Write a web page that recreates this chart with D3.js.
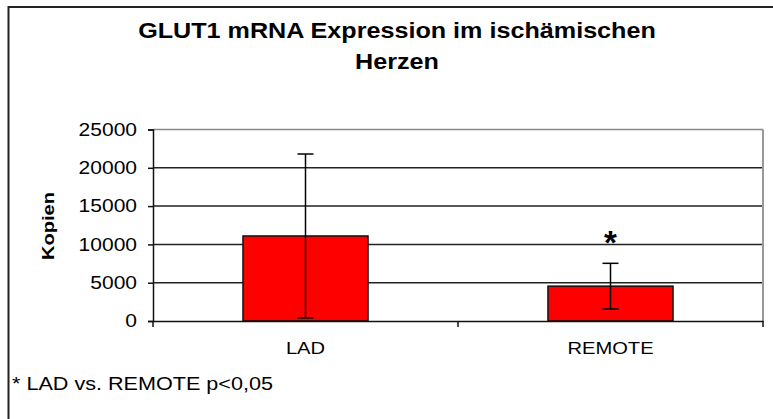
<!DOCTYPE html>
<html>
<head>
<meta charset="utf-8">
<script src="https://cdn.jsdelivr.net/npm/d3@7"></script>
<style>
  body { margin: 0; background: #fff; }
  svg { display: block; font-family: "Liberation Sans", Arial, sans-serif; }
</style>
</head>
<body>
<svg id="chart" width="773" height="419"></svg>
<script>
// data
const categories = ["LAD", "REMOTE"];
const means = [11100, 4550];
const sds = [10700, 2980];
const significant = [false, true];
const yTicks = [0, 5000, 10000, 15000, 20000, 25000];

const titleLines = ["GLUT1 mRNA Expression im ischämischen", "Herzen"];
const yLabel = "Kopien";
const footnote = "* LAD vs. REMOTE p<0,05";

const svg = d3.select("#chart");

// the source picture is a little wider than it is tall, so text gets stretched sideways
function stretch(sel, k) {
  sel.each(function () {
    const w = this.getComputedTextLength();
    d3.select(this).attr("textLength", w * k).attr("lengthAdjust", "spacingAndGlyphs");
  });
}

const plot = { left: 153, right: 763, top: 129.5, bottom: 321 };

const x = d3.scaleBand().domain(categories).range([plot.left, plot.right]);
const y = d3.scaleLinear().domain([0, 25000]).range([plot.bottom, plot.top]);

// outer frame
svg.append("rect")
  .attr("x", 8.5).attr("y", 7)
  .attr("width", 800).attr("height", 450)
  .attr("fill", "none").attr("stroke", "#222").attr("stroke-width", 2);

// title
svg.append("g").selectAll("text")
  .data(titleLines)
  .join("text")
  .attr("x", 397)
  .attr("y", (d, i) => 38 + i * 31)
  .attr("text-anchor", "middle")
  .attr("font-size", 21.5)
  .attr("font-weight", "bold")
  .attr("fill", "#000")
  .text(d => d)
  .call(stretch, 1.17);

// gridlines
svg.append("g").selectAll("line")
  .data(yTicks.slice(1))
  .join("line")
  .attr("x1", plot.left).attr("x2", plot.right)
  .attr("y1", d => y(d)).attr("y2", d => y(d))
  .attr("stroke", d => d === 25000 ? "#888" : "#222")
  .attr("stroke-width", 1.5);

// right border of plot area
svg.append("line")
  .attr("x1", plot.right).attr("x2", plot.right)
  .attr("y1", plot.top).attr("y2", plot.bottom)
  .attr("stroke", "#999").attr("stroke-width", 2);

// bars
const barW = x.bandwidth() * 0.41;
svg.append("g").selectAll("rect")
  .data(categories)
  .join("rect")
  .attr("x", d => x(d) + (x.bandwidth() - barW) / 2)
  .attr("y", (d, i) => y(means[i]))
  .attr("width", barW)
  .attr("height", (d, i) => y(0) - y(means[i]))
  .attr("fill", "#ff0000")
  .attr("stroke", "#111")
  .attr("stroke-width", 1.5);

// error bars
const eb = svg.append("g").attr("stroke", "#000").attr("stroke-width", 1.5);
categories.forEach((c, i) => {
  const cx = x(c) + x.bandwidth() / 2;
  const hi = y(means[i] + sds[i]), lo = y(means[i] - sds[i]);
  eb.append("line").attr("x1", cx).attr("x2", cx).attr("y1", hi).attr("y2", lo);
  eb.append("line").attr("x1", cx - 8).attr("x2", cx + 8).attr("y1", hi).attr("y2", hi);
  eb.append("line").attr("x1", cx - 8).attr("x2", cx + 8).attr("y1", lo).attr("y2", lo);
});

// significance star
svg.append("g").selectAll("text")
  .data(categories.filter((c, i) => significant[i]))
  .join("text")
  .attr("x", d => x(d) + x.bandwidth() / 2)
  .attr("y", 254)
  .attr("text-anchor", "middle")
  .attr("font-size", 33)
  .attr("font-weight", "bold")
  .text("*");

// y axis
const yAxis = svg.append("g")
  .attr("transform", `translate(${plot.left},0)`)
  .call(d3.axisLeft(y).tickValues(yTicks).tickFormat(d3.format("d")).tickSize(5).tickPadding(11));
yAxis.select(".domain").attr("stroke", "#111").attr("stroke-width", 1.5);
yAxis.selectAll(".tick line").attr("stroke", "#111").attr("stroke-width", 1.5);
yAxis.selectAll(".tick text")
  .attr("font-size", 17.5)
  .attr("font-family", "Liberation Sans, Arial, sans-serif")
  .attr("fill", "#000")
  .call(stretch, 1.2);

// x axis
const xAxis = svg.append("g")
  .attr("transform", `translate(0,${plot.bottom})`)
  .call(d3.axisBottom(x).tickSize(0).tickPadding(21));
xAxis.select(".domain").attr("stroke", "#111").attr("stroke-width", 1.5);
xAxis.selectAll(".tick text")
  .attr("font-size", 16.5)
  .attr("font-family", "Liberation Sans, Arial, sans-serif")
  .attr("fill", "#000")
  .call(stretch, 1.22);
xAxis.selectAll(".edge")
  .data([plot.left, ...categories.slice(1).map(c => x(c)), plot.right])
  .join("line")
  .attr("class", "edge")
  .attr("x1", d => d).attr("x2", d => d)
  .attr("y1", 0).attr("y2", 6)
  .attr("stroke", "#111").attr("stroke-width", 1.5);

// y axis title
svg.append("text")
  .attr("transform", "translate(54,226) rotate(-90)")
  .attr("text-anchor", "middle")
  .attr("font-size", 16)
  .attr("font-weight", "bold")
  .attr("textLength", 68)
  .attr("lengthAdjust", "spacingAndGlyphs")
  .text(yLabel);

// footnote
svg.append("text")
  .attr("x", 12)
  .attr("y", 390)
  .attr("font-size", 18)
  .attr("fill", "#000")
  .attr("textLength", 261)
  .attr("lengthAdjust", "spacingAndGlyphs")
  .text(footnote);
</script>
</body>
</html>
